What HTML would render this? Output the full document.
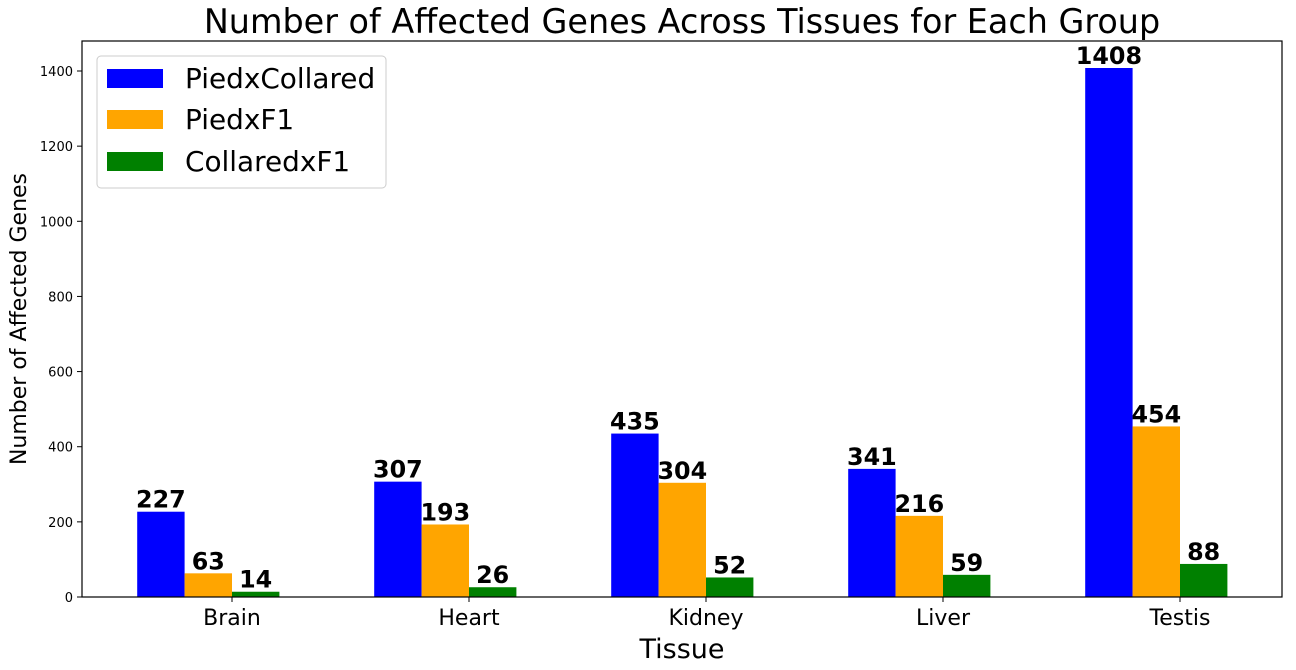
<!DOCTYPE html>
<html><head><meta charset="utf-8"><style>
body{margin:0;background:#fff;}
svg text{font-family:"DejaVu Sans","Liberation Sans",sans-serif;}
</style></head><body>
<svg id="chart" width="1296" height="665" xmlns="http://www.w3.org/2000/svg">
<text x="682" y="33" font-size="33.4" text-anchor="middle">Number of Affected Genes Across Tissues for Each Group</text>
<text x="682" y="658" font-size="27" text-anchor="middle">Tissue</text>
<text transform="translate(26,319) rotate(-90)" font-size="22" text-anchor="middle">Number of Affected Genes</text>
<g id="bars"></g>
<g id="axes"></g>
<g>
<rect x="97" y="56" width="289" height="132" rx="4" fill="#fff" stroke="#ccc" stroke-width="1"/>
<rect x="107" y="69" width="56" height="19" fill="#0000ff"/>
<text x="185" y="88" font-size="27.9">PiedxCollared</text>
<rect x="107" y="110" width="56" height="19" fill="#ffa500"/>
<text x="185" y="129" font-size="27.9">PiedxF1</text>
<rect x="107" y="152" width="56" height="19" fill="#008000"/>
<text x="185" y="171" font-size="27.9">CollaredxF1</text>
</g>
</svg>
<script>
const categories=["Brain","Heart","Kidney","Liver","Testis"];
const piedxCollared=[227,307,435,341,1408];
const piedxF1=[63,193,304,216,454];
const collaredxF1=[14,26,52,59,88];
const yTicks=[0,200,400,600,800,1000,1200,1400];
const L=82,R=1282,T=41,B=597;
const xC=i=>232+237*i;
const y=v=>B-v*(529/1408);
const w=47.4;
const NS="http://www.w3.org/2000/svg";
const bars=document.getElementById('bars'),axes=document.getElementById('axes');
function mk(tag,attrs,parent){const e=document.createElementNS(NS,tag);for(const k in attrs)e.setAttribute(k,attrs[k]);parent.appendChild(e);return e;}
const series=[[piedxCollared,"#0000ff",-2,"piedxcollared"],[piedxF1,"#ffa500",-1,"piedxf1"],[collaredxF1,"#008000",0,"collaredxf1"]];
series.forEach(([vals,col,off,nm])=>{
 vals.forEach((v,i)=>{
  const x=xC(i)+off*w;
  const r=mk('rect',{x:x,y:y(v),width:w,height:B-y(v),fill:col},bars);
  
  
  const t=mk('text',{x:x+w/2,y:y(v)-4,'font-size':23.8,'font-weight':'bold','text-anchor':'middle'},bars);
  t.textContent=v;
  
  
 });
});
const fr=mk('rect',{x:L,y:T,width:R-L,height:B-T,fill:'none',stroke:'#000','stroke-width':1.2},axes);


yTicks.forEach(v=>{
 mk('line',{x1:L-5,x2:L,y1:y(v),y2:y(v),stroke:'#000'},axes);
 const t=mk('text',{x:L-9,y:y(v)+5,'font-size':13,'text-anchor':'end'},axes);
 t.textContent=v;
 
 
});
categories.forEach((c,i)=>{
 mk('line',{x1:xC(i),x2:xC(i),y1:B,y2:B+5,stroke:'#000'},axes);
 const t=mk('text',{x:xC(i),y:B+28,'font-size':22,'text-anchor':'middle'},axes);
 t.textContent=c;
 
 
});
</script>
</body></html>
